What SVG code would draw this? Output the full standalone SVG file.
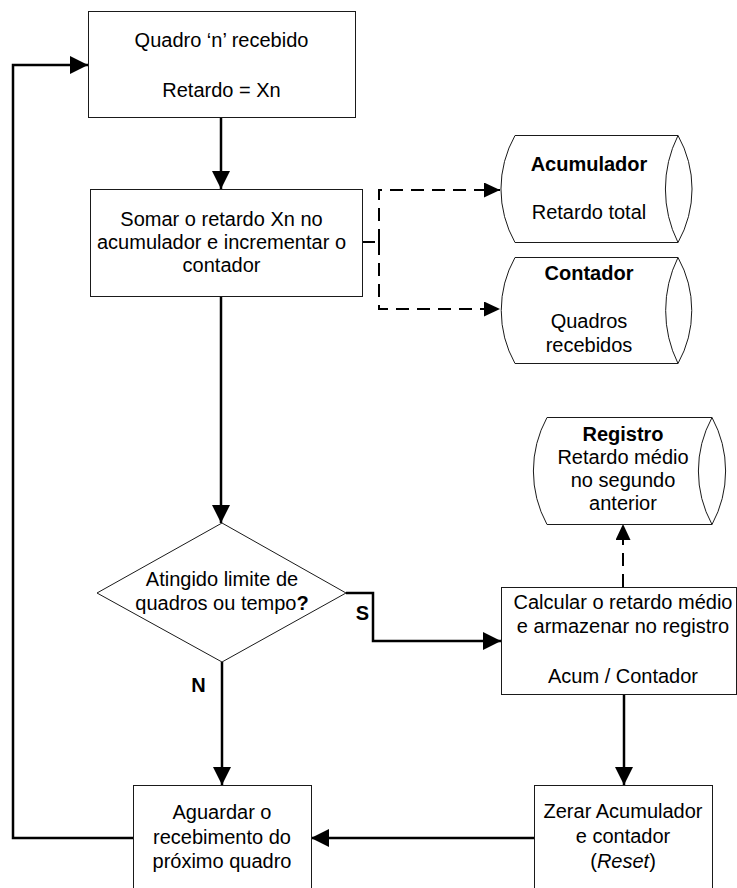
<svg xmlns="http://www.w3.org/2000/svg" width="737" height="888" viewBox="0 0 737 888">
<style>
.box{fill:#fff;stroke:#1a1a1a;stroke-width:1}
.t{font-family:"Liberation Sans",Arial,sans-serif;font-size:20px;fill:#000;text-anchor:middle}
.b{font-weight:bold}
.c{fill:none;stroke:#000;stroke-width:2.5}
.d{fill:none;stroke:#000;stroke-width:2;stroke-dasharray:13 8}
</style>
<defs>
<marker id="ah" markerUnits="userSpaceOnUse" markerWidth="19" markerHeight="18" refX="18" refY="9" orient="auto">
<path d="M0,0 L18,9 L0,18 z" fill="#000"/>
</marker>
<marker id="ahd" markerUnits="userSpaceOnUse" markerWidth="17" markerHeight="16" refX="16" refY="7.5" orient="auto">
<path d="M0,0 L16,7.5 L0,15 z" fill="#000"/>
</marker>
</defs>
<rect width="737" height="888" fill="#fff"/>
<g id="connectors">
<path class="c" d="M133,838 H13 V65 H88" marker-end="url(#ah)"/>
<path class="c" d="M221,117 V189" marker-end="url(#ah)"/>
<path class="c" d="M221,296 V523" marker-end="url(#ah)"/>
<path class="c" d="M346,593 H373 V641 H501" marker-end="url(#ah)"/>
<path class="c" d="M222,662 V785" marker-end="url(#ah)"/>
<path class="c" d="M624,694 V785" marker-end="url(#ah)"/>
<path class="c" d="M534,838 H311" marker-end="url(#ah)"/>
<path class="d" d="M362,242 H379"/>
<path class="d" d="M379,242 V190 H500" marker-end="url(#ahd)"/>
<path class="d" d="M379,242 V309 H500" marker-end="url(#ahd)"/>
<path class="d" d="M623,587 V524" marker-end="url(#ahd)"/>
</g>
<g id="n1">
<rect class="box" x="88.5" y="11.5" width="267" height="106"/>
<text class="t" x="221.5" y="47">Quadro ‘n’ recebido</text>
<text class="t" x="221.5" y="97">Retardo = Xn</text>
</g>
<g id="n2">
<rect class="box" x="90.5" y="189.5" width="272" height="107"/>
<text class="t" x="221.5" y="226">Somar o retardo Xn no</text>
<text class="t" x="221.5" y="249">acumulador e incrementar o</text>
<text class="t" x="221.5" y="272">contador</text>
</g>
<g id="acumulador">
<path class="box" d="M515,135.5 H678 A109,109 0 0 1 678,242.5 H515 A109,109 0 0 1 515,135.5 Z M678,135.5 A120,120 0 0 0 678,242.5"/>
<text class="t b" x="589" y="171">Acumulador</text>
<text class="t" x="589" y="219">Retardo total</text>
</g>
<g id="contador">
<path class="box" d="M515,257.5 H678 A109,109 0 0 1 678,363.5 H515 A109,109 0 0 1 515,257.5 Z M678,257.5 A120,120 0 0 0 678,363.5"/>
<text class="t b" x="589" y="280">Contador</text>
<text class="t" x="589" y="328">Quadros</text>
<text class="t" x="589" y="352">recebidos</text>
</g>
<g id="registro">
<path class="box" d="M547,417.5 H712 A112,112 0 0 1 712,524.5 H547 A112,112 0 0 1 547,417.5 Z M712,417.5 A112,112 0 0 0 712,524.5"/>
<text class="t b" x="623" y="441">Registro</text>
<text class="t" x="623" y="464">Retardo médio</text>
<text class="t" x="623" y="487">no segundo</text>
<text class="t" x="623" y="510">anterior</text>
</g>
<g id="decisao">
<polygon class="box" points="222,523 346,593 222,662 97,593"/>
<text class="t" x="222" y="586">Atingido limite de</text>
<text class="t" x="222" y="610">quadros ou tempo<tspan class="b">?</tspan></text>
<text class="t b" x="362.5" y="620">S</text>
<text class="t b" x="198.5" y="692">N</text>
</g>
<g id="calcular">
<rect class="box" x="501.5" y="587.5" width="235" height="107"/>
<text class="t" x="623" y="609">Calcular o retardo médio</text>
<text class="t" x="623" y="633">e armazenar no registro</text>
<text class="t" x="623" y="683">Acum / Contador</text>
</g>
<g id="aguardar">
<rect class="box" x="133.5" y="785.5" width="178" height="110"/>
<text class="t" x="222" y="819">Aguardar o</text>
<text class="t" x="222" y="844">recebimento do</text>
<text class="t" x="222" y="868">próximo quadro</text>
</g>
<g id="zerar">
<rect class="box" x="534.5" y="785.5" width="178" height="110"/>
<text class="t" x="623" y="818">Zerar Acumulador</text>
<text class="t" x="623" y="843">e contador</text>
<text class="t" x="623" y="868">(<tspan font-style="italic">Reset</tspan>)</text>
</g>
</svg>
